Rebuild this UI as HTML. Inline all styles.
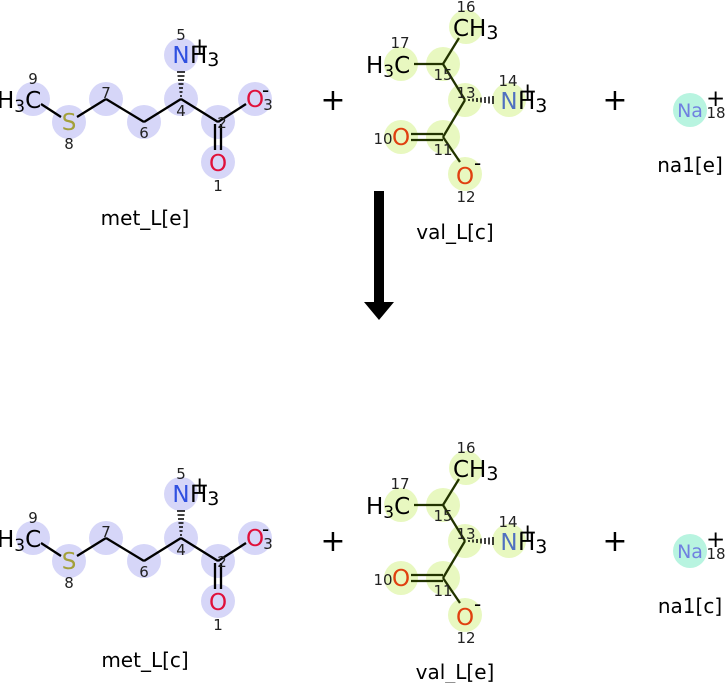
<!DOCTYPE html>
<html><head><meta charset="utf-8"><style>body{margin:0;background:#fff}svg{display:block}text{font-family:"DejaVu Sans","Liberation Sans",sans-serif}</style></head><body>
<svg width="725" height="683" viewBox="0 0 725 683" xmlns="http://www.w3.org/2000/svg">
<defs>
<g id="met">
<g fill="#d6d6f8"><circle cx="33" cy="99" r="17"/><circle cx="69" cy="122" r="17"/><circle cx="106" cy="99" r="17"/><circle cx="144" cy="122" r="17"/><circle cx="181" cy="99" r="17"/><circle cx="181" cy="55" r="17"/><circle cx="218" cy="122" r="17"/><circle cx="255" cy="99" r="17"/><circle cx="218" cy="162" r="17"/></g>
<g stroke="#000" stroke-width="2.3" fill="none"><line x1="41" y1="104" x2="61" y2="117"/><line x1="77" y1="117" x2="106" y2="99"/><line x1="106" y1="99" x2="144" y2="122"/><line x1="144" y1="122" x2="181" y2="99"/><line x1="181" y1="99" x2="218" y2="122"/><line x1="218" y1="122" x2="246" y2="104"/><line x1="215" y1="124" x2="215" y2="150"/><line x1="221" y1="124" x2="221" y2="150"/></g>
<g stroke="#000" stroke-width="1.5"><line x1="180" y1="96" x2="182" y2="96"/><line x1="179.5" y1="92" x2="182.5" y2="92"/><line x1="179" y1="88" x2="183" y2="88"/><line x1="178.5" y1="84" x2="183.5" y2="84"/><line x1="178" y1="80" x2="184" y2="80"/><line x1="177.5" y1="76" x2="184.5" y2="76"/><line x1="177" y1="72" x2="185" y2="72"/></g>
<text x="-3" y="108" font-size="23">H<tspan font-size="17" dy="4">3</tspan><tspan dy="-4">C</tspan></text>
<text x="69" y="130" font-size="23" fill="#a3a03a" text-anchor="middle">S</text>
<text x="181" y="63" font-size="23" fill="#3050e0" text-anchor="middle">N</text>
<text x="190" y="63" font-size="23">H<tspan font-size="19" dy="3">3</tspan></text>
<text x="190" y="54" font-size="23">+</text>
<text x="255" y="107" font-size="23" fill="#e0103a" text-anchor="middle">O</text>
<text x="262" y="97" font-size="20">-</text>
<text x="218" y="171" font-size="23" fill="#e0103a" text-anchor="middle">O</text>
<g font-size="15" fill="#222" text-anchor="middle"><text x="33" y="84">9</text><text x="69" y="149">8</text><text x="106" y="98">7</text><text x="144" y="138">6</text><text x="181" y="116">4</text><text x="181" y="40">5</text><text x="222" y="128">2</text><text x="268" y="110">3</text><text x="218" y="191">1</text></g>
</g>
<g id="val">
<g fill="#e8f8c0"><circle cx="466" cy="27" r="17"/><circle cx="443" cy="64" r="17"/><circle cx="401" cy="64" r="17"/><circle cx="465" cy="100" r="17"/><circle cx="509" cy="100" r="17"/><circle cx="443" cy="137" r="17"/><circle cx="401" cy="137" r="17"/><circle cx="465" cy="174" r="17"/></g>
<g stroke="#223300" stroke-width="2.3" fill="none"><line x1="459" y1="38" x2="443" y2="64"/><line x1="414" y1="64" x2="443" y2="64"/><line x1="443" y1="64" x2="465" y2="100"/><line x1="465" y1="100" x2="443" y2="137"/><line x1="443" y1="137" x2="460" y2="162"/><line x1="411" y1="134" x2="443" y2="134"/><line x1="411" y1="140" x2="443" y2="140"/></g>
<g stroke="#000" stroke-width="1.5"><line x1="469" y1="99" x2="469" y2="101"/><line x1="473" y1="98.5" x2="473" y2="101.5"/><line x1="477" y1="98" x2="477" y2="102"/><line x1="481" y1="97.5" x2="481" y2="102.5"/><line x1="485" y1="97" x2="485" y2="103"/><line x1="489" y1="96.5" x2="489" y2="103.5"/><line x1="493" y1="96" x2="493" y2="104"/></g>
<text x="453" y="36" font-size="23">CH<tspan font-size="19" dy="3">3</tspan></text>
<text x="366" y="73" font-size="23">H<tspan font-size="17" dy="4">3</tspan><tspan dy="-4">C</tspan></text>
<text x="509" y="109" font-size="23" fill="#5070c0" text-anchor="middle">N</text>
<text x="518" y="109" font-size="23">H<tspan font-size="19" dy="3">3</tspan></text>
<text x="518" y="99" font-size="23">+</text>
<text x="401" y="145" font-size="23" fill="#e04010" text-anchor="middle">O</text>
<text x="465" y="184" font-size="23" fill="#e04010" text-anchor="middle">O</text>
<text x="474" y="170" font-size="20">-</text>
<g font-size="15" fill="#222" text-anchor="middle"><text x="466" y="12">16</text><text x="400" y="48">17</text><text x="443" y="80">15</text><text x="466" y="98">13</text><text x="508" y="86">14</text><text x="383" y="144">10</text><text x="443" y="155">11</text><text x="466" y="202">12</text></g>
</g>
<g id="na">
<circle cx="690" cy="110" r="17" fill="#b8f4e0"/>
<text x="690" y="117" font-size="19" fill="#7080e0" text-anchor="middle">Na</text>
<text x="706" y="106" font-size="23">+</text>
<text x="716" y="118" font-size="15" fill="#222" text-anchor="middle">18</text>
</g>
</defs>
<use href="#met"/><use href="#val"/><use href="#na"/>
<use href="#met" transform="translate(0,439)"/><use href="#val" transform="translate(0,441)"/><use href="#na" transform="translate(0,441)"/>
<g font-size="30" text-anchor="middle"><text x="333" y="110">+</text><text x="615" y="110">+</text><text x="333" y="551">+</text><text x="615" y="551">+</text></g>
<rect x="374" y="191" width="10" height="112" fill="#000"/>
<polygon points="364,302 394,302 379,320" fill="#000"/>
<g font-size="20" text-anchor="middle"><text x="145" y="225">met_L[e]</text><text x="455" y="239">val_L[c]</text><text x="690" y="172">na1[e]</text>
<text x="145" y="667">met_L[c]</text><text x="455" y="679">val_L[e]</text><text x="690" y="613">na1[c]</text></g>
</svg>
</body></html>
